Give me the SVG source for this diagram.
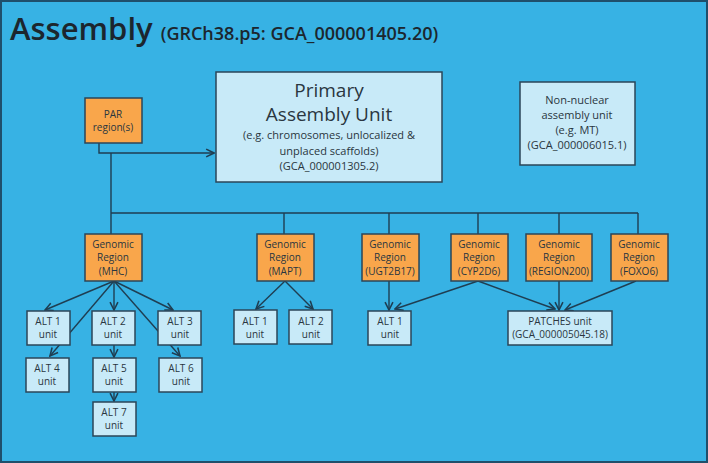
<svg xmlns="http://www.w3.org/2000/svg" width="708" height="463" viewBox="0 0 708 463">
<defs>
<marker id="ah" viewBox="0 0 10 10" refX="9" refY="5" markerWidth="7" markerHeight="7" orient="auto-start-reverse"><path d="M1,1 L9,5 L1,9" fill="none" stroke="#1f3e52" stroke-width="1.6"/></marker>
<style>
.o{fill:#f9a64b;stroke:#2b4658;stroke-width:1.5}
.l{fill:#c8eaf8;stroke:#2b4658;stroke-width:1.5}
text{font-family:"Open Sans","Liberation Sans",sans-serif;fill:#2a3640;text-anchor:middle}
.s{font-size:10px}
.c{stroke:#1f3e52;stroke-width:1.4;fill:none}
</style>
</defs>
<rect x="1" y="1" width="706" height="461" fill="#37b2e4" stroke="#1f4f6b" stroke-width="2"/>
<text x="10" y="40" style="text-anchor:start;font-size:31px;font-weight:600;fill:#1c262e">Assembly <tspan style="font-size:18px;font-weight:600">(GRCh38.p5: GCA_000001405.20)</tspan></text>
<g id="connectors">
<path class="c" d="M99,143 V153 H214" marker-end="url(#ah)"/>
<path class="c" d="M111,153 V234 M111,213 H638 M284,213 V234 M389,213 V234 M478,213 V234 M559,213 V234 M638,213 V234"/>
<line class="c" x1="114" y1="281" x2="45" y2="310" marker-end="url(#ah)"/>
<line class="c" x1="114" y1="281" x2="114" y2="310" marker-end="url(#ah)"/>
<line class="c" x1="114" y1="281" x2="173" y2="310" marker-end="url(#ah)"/>
<line class="c" x1="114" y1="281" x2="50" y2="356" marker-end="url(#ah)"/>
<line class="c" x1="114" y1="281" x2="180" y2="356" marker-end="url(#ah)"/>
<line class="c" x1="114" y1="345" x2="114" y2="357" marker-end="url(#ah)"/>
<line class="c" x1="114" y1="392" x2="114" y2="401" marker-end="url(#ah)"/>
<line class="c" x1="285" y1="281" x2="256" y2="309" marker-end="url(#ah)"/>
<line class="c" x1="285" y1="281" x2="313" y2="309" marker-end="url(#ah)"/>
<line class="c" x1="389" y1="281" x2="389" y2="310" marker-end="url(#ah)"/>
<line class="c" x1="478" y1="281" x2="395" y2="309" marker-end="url(#ah)"/>
<line class="c" x1="478" y1="281" x2="555" y2="309" marker-end="url(#ah)"/>
<line class="c" x1="559" y1="281" x2="559" y2="310" marker-end="url(#ah)"/>
<line class="c" x1="636" y1="281" x2="565" y2="310" marker-end="url(#ah)"/>
</g>
<g id="par"><rect class="o" x="85" y="98" width="57" height="45"/><text class="s" x="113" y="118">PAR</text><text class="s" x="113" y="131">region(s)</text></g>
<g id="primary"><rect class="l" x="216" y="72" width="226" height="110"/>
<text x="329" y="97" style="font-size:19px">Primary</text><text x="329" y="121" style="font-size:19px">Assembly Unit</text>
<text x="329" y="139" style="font-size:11px">(e.g. chromosomes, unlocalized &amp;</text><text x="329" y="155" style="font-size:11px">unplaced scaffolds)</text><text x="329" y="170" style="font-size:11px">(GCA_000001305.2)</text></g>
<g id="nonnuclear"><rect class="l" x="520" y="82" width="115" height="83"/>
<text x="577" y="104" style="font-size:11px">Non-nuclear</text><text x="577" y="119" style="font-size:11px">assembly unit</text><text x="577" y="134" style="font-size:11px">(e.g. MT)</text><text x="577" y="149" style="font-size:11px">(GCA_000006015.1)</text></g>
<g id="mhc"><rect class="o" x="85" y="234" width="57" height="47"/><text class="s" x="113" y="248">Genomic</text><text class="s" x="113" y="261">Region</text><text class="s" x="113" y="275">(MHC)</text></g>
<g id="mapt"><rect class="o" x="257" y="234" width="57" height="47"/><text class="s" x="285" y="248">Genomic</text><text class="s" x="285" y="261">Region</text><text class="s" x="285" y="275">(MAPT)</text></g>
<g id="ugt"><rect class="o" x="362" y="234" width="57" height="47"/><text class="s" x="390" y="248">Genomic</text><text class="s" x="390" y="261">Region</text><text class="s" x="390" y="275">(UGT2B17)</text></g>
<g id="cyp"><rect class="o" x="451" y="234" width="57" height="47"/><text class="s" x="479" y="248">Genomic</text><text class="s" x="479" y="261">Region</text><text class="s" x="479" y="275">(CYP2D6)</text></g>
<g id="r200"><rect class="o" x="526" y="234" width="66" height="47"/><text class="s" x="559" y="248">Genomic</text><text class="s" x="559" y="261">Region</text><text class="s" x="559" y="275">(REGION200)</text></g>
<g id="foxo"><rect class="o" x="611" y="234" width="57" height="47"/><text class="s" x="639" y="248">Genomic</text><text class="s" x="639" y="261">Region</text><text class="s" x="639" y="275">(FOXO6)</text></g>
<g id="alt1"><rect class="l" x="27" y="311" width="43" height="34"/><text class="s" x="48" y="325">ALT 1</text><text class="s" x="48" y="338">unit</text></g>
<g id="alt2"><rect class="l" x="92" y="311" width="43" height="34"/><text class="s" x="113" y="325">ALT 2</text><text class="s" x="113" y="338">unit</text></g>
<g id="alt3"><rect class="l" x="158" y="311" width="43" height="34"/><text class="s" x="180" y="325">ALT 3</text><text class="s" x="180" y="338">unit</text></g>
<g id="alt4"><rect class="l" x="26" y="358" width="43" height="34"/><text class="s" x="47" y="372">ALT 4</text><text class="s" x="47" y="385">unit</text></g>
<g id="alt5"><rect class="l" x="93" y="358" width="43" height="34"/><text class="s" x="114" y="372">ALT 5</text><text class="s" x="114" y="385">unit</text></g>
<g id="alt6"><rect class="l" x="159" y="358" width="43" height="34"/><text class="s" x="181" y="372">ALT 6</text><text class="s" x="181" y="385">unit</text></g>
<g id="alt7"><rect class="l" x="93" y="402" width="43" height="34"/><text class="s" x="114" y="416">ALT 7</text><text class="s" x="114" y="429">unit</text></g>
<g id="mapt-alt1"><rect class="l" x="234" y="310" width="43" height="34"/><text class="s" x="255" y="325">ALT 1</text><text class="s" x="255" y="338">unit</text></g>
<g id="mapt-alt2"><rect class="l" x="289" y="310" width="43" height="34"/><text class="s" x="311" y="325">ALT 2</text><text class="s" x="311" y="338">unit</text></g>
<g id="ugt-alt1"><rect class="l" x="368" y="311" width="43" height="34"/><text class="s" x="390" y="325">ALT 1</text><text class="s" x="390" y="338">unit</text></g>
<g id="patches"><rect class="l" x="508" y="311" width="104" height="34"/><text class="s" x="560" y="325">PATCHES unit</text><text class="s" x="560" y="338">(GCA_000005045.18)</text></g>
</svg>
